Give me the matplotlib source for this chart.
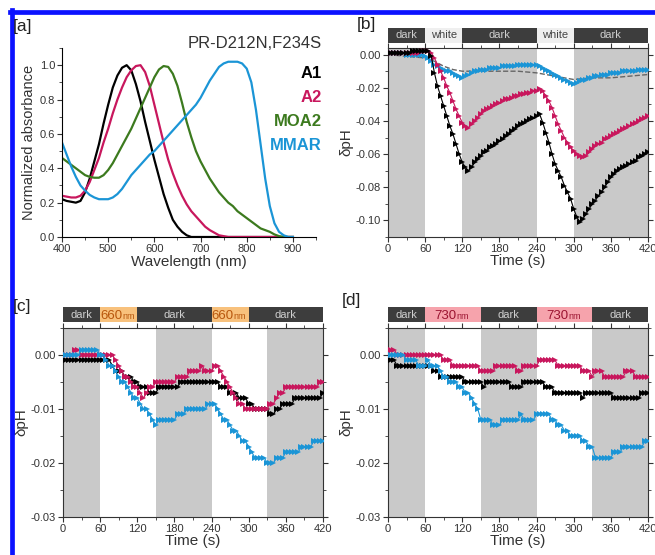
import matplotlib
matplotlib.use("Agg")
import matplotlib.pyplot as plt
from matplotlib.lines import Line2D
from matplotlib.ticker import MultipleLocator

plt.rcParams['font.family'] = ['Liberation Sans', 'DejaVu Sans']

# ---------------- data ----------------
# panel a: normalized absorbance spectra
wavelength = list(range(400, 901, 10))
abs_a1 = [0.22, 0.21, 0.205, 0.20, 0.21, 0.26, 0.34, 0.44, 0.54, 0.66,
          0.77, 0.87, 0.94, 0.985, 1.00, 0.97, 0.89, 0.79, 0.67, 0.56,
          0.45, 0.35, 0.25, 0.17, 0.10, 0.06, 0.03, 0.01, 0.0, 0.0,
          0.0, 0.0, 0.0, 0.0, 0.0, 0.0, 0.0, 0.0, 0.0, 0.0,
          0.0, 0.0, 0.0, 0.0, 0.0, 0.0, 0.0, 0.0, 0.0, 0.0, 0.0]
abs_a2 = [0.24, 0.235, 0.23, 0.23, 0.24, 0.27, 0.32, 0.39, 0.46, 0.55,
          0.63, 0.72, 0.80, 0.87, 0.93, 0.97, 0.995, 1.00, 0.96, 0.88,
          0.77, 0.66, 0.55, 0.45, 0.37, 0.30, 0.24, 0.19, 0.15, 0.12,
          0.09, 0.06, 0.04, 0.025, 0.01, 0.005, 0.0, 0.0, 0.0, 0.0,
          0.0, 0.0, 0.0, 0.0, 0.0, 0.0, 0.0, 0.0, 0.0, 0.0, 0.0]
abs_moa2 = [0.46, 0.44, 0.42, 0.40, 0.38, 0.36, 0.35, 0.345, 0.345, 0.36,
            0.39, 0.43, 0.48, 0.53, 0.58, 0.63, 0.69, 0.75, 0.81, 0.87,
            0.93, 0.975, 0.995, 0.99, 0.95, 0.88, 0.78, 0.67, 0.58, 0.50,
            0.44, 0.39, 0.34, 0.30, 0.26, 0.23, 0.20, 0.18, 0.15, 0.13,
            0.11, 0.09, 0.07, 0.05, 0.04, 0.03, 0.015, 0.005, 0.0, 0.0, 0.0]
abs_mmar = [0.55, 0.48, 0.41, 0.35, 0.30, 0.27, 0.245, 0.23, 0.22, 0.22,
            0.22, 0.23, 0.25, 0.28, 0.32, 0.36, 0.39, 0.42, 0.45, 0.48,
            0.50, 0.53, 0.56, 0.59, 0.62, 0.65, 0.68, 0.71, 0.74, 0.77,
            0.81, 0.86, 0.91, 0.95, 0.99, 1.01, 1.02, 1.02, 1.02, 1.01,
            0.98, 0.90, 0.74, 0.54, 0.34, 0.18, 0.08, 0.03, 0.01, 0.0, 0.0]

# panels b-d: time (s) and delta pH
time_s = list(range(0, 421, 5))

b_a1 = [0.001, 0.001, 0.001, 0.001, 0.001, 0.001, 0.001, 0.001, 0.002, 0.002, 0.002, 0.002,
        0.002, 0.002, -0.001, -0.011, -0.019, -0.025, -0.031, -0.037, -0.043, -0.048, -0.054, -0.060,
        -0.065, -0.068, -0.070, -0.068, -0.065, -0.063, -0.061, -0.059, -0.058, -0.056, -0.055, -0.054,
        -0.052, -0.051, -0.049, -0.048, -0.046, -0.045, -0.043, -0.042, -0.041, -0.040, -0.039, -0.038,
        -0.037, -0.036, -0.041, -0.047, -0.053, -0.060, -0.066, -0.070, -0.074, -0.079, -0.083, -0.087,
        -0.093, -0.098, -0.101, -0.099, -0.096, -0.093, -0.090, -0.088, -0.085, -0.083, -0.080, -0.077,
        -0.074, -0.072, -0.070, -0.069, -0.068, -0.067, -0.066, -0.065, -0.064, -0.062, -0.061, -0.060,
        -0.059]
b_a2 = [0.001, 0.001, 0.001, 0.001, 0.001, 0.001, 0.001, 0.001, 0.001, 0.001, 0.001, 0.002,
        0.002, 0.002, 0.001, -0.002, -0.006, -0.010, -0.014, -0.019, -0.023, -0.028, -0.033, -0.037,
        -0.041, -0.043, -0.044, -0.042, -0.040, -0.038, -0.036, -0.034, -0.033, -0.032, -0.031, -0.030,
        -0.029, -0.028, -0.027, -0.027, -0.026, -0.025, -0.025, -0.024, -0.024, -0.023, -0.023, -0.022,
        -0.022, -0.021, -0.022, -0.025, -0.028, -0.032, -0.037, -0.042, -0.046, -0.050, -0.053, -0.056,
        -0.058, -0.060, -0.061, -0.062, -0.061, -0.059, -0.057, -0.055, -0.054, -0.053, -0.051, -0.050,
        -0.049, -0.048, -0.047, -0.046, -0.045, -0.044, -0.043, -0.042, -0.041, -0.040, -0.039, -0.038,
        -0.037]
b_mmar = [0.001, 0.001, 0.001, 0.001, 0.001, 0.001, 0.000, 0.000, 0.000, 0.000, 0.000, 0.000,
          -0.001, -0.002, -0.004, -0.006, -0.007, -0.008, -0.009, -0.010, -0.010, -0.011, -0.012, -0.013,
          -0.014, -0.013, -0.012, -0.011, -0.010, -0.010, -0.009, -0.009, -0.009, -0.008, -0.008, -0.008,
          -0.008, -0.007, -0.007, -0.007, -0.007, -0.007, -0.006, -0.006, -0.006, -0.006, -0.006, -0.006,
          -0.006, -0.007, -0.008, -0.009, -0.010, -0.011, -0.012, -0.013, -0.014, -0.015, -0.016, -0.017,
          -0.018, -0.017, -0.016, -0.015, -0.015, -0.014, -0.014, -0.013, -0.013, -0.012, -0.012, -0.012,
          -0.011, -0.011, -0.011, -0.011, -0.010, -0.010, -0.010, -0.010, -0.010, -0.009, -0.009, -0.009,
          -0.009]
ctrl_t = [0, 30, 60, 75, 90, 105, 120, 150, 180, 210, 240, 270, 300, 330, 360, 390, 420]
b_ctrl = [0.000, -0.001, -0.002, -0.004, -0.007, -0.009, -0.010, -0.010, -0.010, -0.010,
          -0.011, -0.013, -0.015, -0.014, -0.014, -0.013, -0.012]

c_a1 = [-0.001, -0.001, -0.001, -0.001, -0.001, -0.001, -0.001, -0.001, -0.001, -0.001, -0.001, -0.001,
        -0.001, -0.001, -0.001, -0.001, -0.002, -0.003, -0.003, -0.003, -0.004, -0.004, -0.004, -0.005,
        -0.005, -0.006, -0.006, -0.006, -0.007, -0.007, -0.007, -0.006, -0.006, -0.006, -0.006, -0.006,
        -0.006, -0.006, -0.005, -0.005, -0.005, -0.005, -0.005, -0.005, -0.005, -0.005, -0.005, -0.005,
        -0.005, -0.005, -0.005, -0.006, -0.006, -0.006, -0.007, -0.007, -0.007, -0.008, -0.008, -0.008,
        -0.009, -0.009, -0.010, -0.010, -0.010, -0.010, -0.010, -0.011, -0.011, -0.010, -0.010, -0.009,
        -0.009, -0.009, -0.009, -0.008, -0.008, -0.008, -0.008, -0.008, -0.008, -0.008, -0.008, -0.008,
        -0.007]
c_a2 = [0.000, 0.000, 0.000, 0.000, 0.001, 0.001, 0.000, 0.000, 0.000, 0.000, 0.000, 0.000,
        0.000, 0.000, 0.000, 0.000, 0.000, -0.001, -0.002, -0.003, -0.004, -0.004, -0.005, -0.006,
        -0.006, -0.007, -0.008, -0.007, -0.006, -0.006, -0.005, -0.005, -0.005, -0.005, -0.005, -0.005,
        -0.005, -0.004, -0.004, -0.004, -0.004, -0.003, -0.003, -0.003, -0.003, -0.002, -0.003, -0.003,
        -0.003, -0.002, -0.002, -0.003, -0.004, -0.005, -0.006, -0.007, -0.008, -0.009, -0.009, -0.010,
        -0.010, -0.010, -0.010, -0.010, -0.010, -0.010, -0.010, -0.009, -0.009, -0.008, -0.007, -0.007,
        -0.006, -0.006, -0.006, -0.006, -0.006, -0.006, -0.006, -0.006, -0.006, -0.006, -0.006, -0.005,
        -0.005]
c_mmar = [0.000, 0.000, 0.000, 0.000, 0.000, 0.000, 0.001, 0.001, 0.001, 0.001, 0.001, 0.001,
          0.000, 0.000, -0.001, -0.002, -0.002, -0.003, -0.004, -0.005, -0.005, -0.006, -0.007, -0.008,
          -0.008, -0.009, -0.010, -0.010, -0.011, -0.012, -0.013, -0.012, -0.012, -0.012, -0.012, -0.012,
          -0.012, -0.011, -0.011, -0.011, -0.010, -0.010, -0.010, -0.010, -0.010, -0.010, -0.010, -0.009,
          -0.009, -0.009, -0.010, -0.011, -0.012, -0.012, -0.013, -0.014, -0.014, -0.015, -0.016, -0.016,
          -0.017, -0.018, -0.019, -0.019, -0.019, -0.019, -0.020, -0.020, -0.020, -0.019, -0.019, -0.019,
          -0.018, -0.018, -0.018, -0.018, -0.018, -0.017, -0.017, -0.017, -0.017, -0.016, -0.016, -0.016,
          -0.016]

d_a1 = [-0.001, -0.001, -0.001, -0.002, -0.002, -0.002, -0.002, -0.002, -0.002, -0.002, -0.002, -0.002,
        -0.002, -0.002, -0.002, -0.003, -0.003, -0.004, -0.004, -0.004, -0.004, -0.004, -0.004, -0.004,
        -0.004, -0.005, -0.005, -0.005, -0.005, -0.005, -0.005, -0.006, -0.005, -0.005, -0.005, -0.005,
        -0.005, -0.005, -0.005, -0.005, -0.006, -0.006, -0.006, -0.006, -0.005, -0.005, -0.005, -0.005,
        -0.005, -0.005, -0.005, -0.006, -0.006, -0.006, -0.007, -0.007, -0.007, -0.007, -0.007, -0.007,
        -0.007, -0.007, -0.007, -0.008, -0.007, -0.007, -0.007, -0.007, -0.007, -0.007, -0.007, -0.007,
        -0.007, -0.008, -0.008, -0.008, -0.008, -0.008, -0.008, -0.008, -0.008, -0.008, -0.007, -0.007,
        -0.007]
d_a2 = [0.000, 0.001, 0.001, 0.000, 0.000, 0.000, 0.000, 0.000, 0.000, 0.000, 0.000, 0.000,
        0.000, 0.000, 0.000, 0.000, 0.000, 0.000, -0.001, -0.001, -0.001, -0.002, -0.002, -0.002,
        -0.002, -0.002, -0.002, -0.002, -0.002, -0.002, -0.003, -0.003, -0.003, -0.003, -0.003, -0.002,
        -0.002, -0.002, -0.002, -0.002, -0.002, -0.002, -0.003, -0.003, -0.002, -0.002, -0.002, -0.002,
        -0.002, -0.001, -0.001, -0.001, -0.001, -0.001, -0.001, -0.002, -0.002, -0.002, -0.002, -0.002,
        -0.002, -0.002, -0.002, -0.003, -0.003, -0.003, -0.004, -0.003, -0.003, -0.003, -0.004, -0.004,
        -0.004, -0.004, -0.004, -0.004, -0.004, -0.003, -0.003, -0.003, -0.004, -0.004, -0.004, -0.004,
        -0.004]
d_mmar = [0.000, 0.000, 0.000, 0.000, 0.000, 0.000, -0.001, -0.001, -0.001, -0.001, -0.002, -0.002,
          -0.002, -0.001, -0.002, -0.002, -0.002, -0.003, -0.004, -0.004, -0.005, -0.005, -0.005, -0.006,
          -0.006, -0.007, -0.007, -0.008, -0.009, -0.010, -0.012, -0.012, -0.012, -0.012, -0.013, -0.013,
          -0.013, -0.012, -0.012, -0.012, -0.012, -0.012, -0.012, -0.011, -0.012, -0.012, -0.012, -0.012,
          -0.011, -0.011, -0.011, -0.011, -0.011, -0.012, -0.012, -0.013, -0.013, -0.014, -0.014, -0.015,
          -0.015, -0.015, -0.015, -0.016, -0.016, -0.017, -0.017, -0.019, -0.019, -0.019, -0.019, -0.019,
          -0.019, -0.018, -0.018, -0.018, -0.017, -0.017, -0.017, -0.017, -0.017, -0.017, -0.017, -0.016,
          -0.016]

# illumination periods (start, end, label) and grey shaded dark periods
b_bar = [(0, 60, 'dark'), (60, 120, 'white'), (120, 240, 'dark'), (240, 300, 'white'), (300, 420, 'dark')]
c_bar = [(0, 60, 'dark'), (60, 120, '660'), (120, 240, 'dark'), (240, 300, '660'), (300, 420, 'dark')]
d_bar = [(0, 60, 'dark'), (60, 150, '730'), (150, 240, 'dark'), (240, 330, '730'), (330, 420, 'dark')]
b_shade = [(0, 60), (120, 240), (300, 420)]
cd_shade = [(0, 60), (150, 240), (330, 420)]

# colours
C_A1 = '#000000'
C_A2 = '#c8175d'
C_MOA2 = '#3c7a1e'
C_MMAR = '#1b95d6'

W, H = 655, 555


def rect(l, t, r, b):
    return [l / W, 1 - b / H, (r - l) / W, (b - t) / H]


fig = plt.figure(figsize=(W / 100, H / 100), dpi=100)

# blue frame (top and left edges)
fig.add_artist(Line2D([10 / W, 1], [1 - 12 / H, 1 - 12 / H], color='#0b12ff', lw=3.4))
fig.add_artist(Line2D([12 / W, 12 / W], [0, 1 - 10 / H], color='#0b12ff', lw=3.4))

# ---------------- panel a ----------------
ax = fig.add_axes(rect(62, 48, 316, 237))
ax.plot(wavelength, abs_a1, color=C_A1, lw=1.6)
ax.plot(wavelength, abs_a2, color=C_A2, lw=1.6)
ax.plot(wavelength, abs_moa2, color=C_MOA2, lw=1.6)
ax.plot(wavelength, abs_mmar, color=C_MMAR, lw=1.6)
ax.set_xlim(400, 950)
ax.set_ylim(0, 1.1)
ax.set_xticks(range(400, 901, 100))
ax.set_yticks([0.0, 0.2, 0.4, 0.6, 0.8, 1.0])
ax.xaxis.set_minor_locator(MultipleLocator(50))
ax.yaxis.set_minor_locator(MultipleLocator(0.1))
ax.spines['top'].set_visible(False)
ax.spines['right'].set_visible(False)
ax.tick_params(which='both', direction='out', labelsize=8, colors='#333333', pad=1.5)
ax.tick_params(which='major', length=3.5)
ax.tick_params(which='minor', length=2)
ax.set_xlabel('Wavelength (nm)', fontsize=11, labelpad=1, color='#333333')
ax.set_ylabel('Normalized absorbance', fontsize=10.5, labelpad=3, color='#333333')
fig.text(322 / W, 1 - 44 / H, 'PR-D212N,F234S', ha='right', va='center', fontsize=12, color='#333333')
for lab, col, yy in [('A1', C_A1, 73), ('A2', C_A2, 97), ('MOA2', C_MOA2, 121), ('MMAR', C_MMAR, 145)]:
    fig.text(322 / W, 1 - yy / H, lab, ha='right', va='center', fontsize=12, fontweight='bold', color=col)


# ---------------- panels b-d ----------------
bar_style = {
    'dark': ('#3d3d3d', '#cfcfcf'),
    'white': ('#efefef', '#444444'),
    '660': ('#f8c17c', '#b8560c'),
    '730': ('#f6a3ac', '#9b1431'),
}


def time_panel(box, bar_box, curves, shade, bar, ylim, major, minor, ticks):
    ax = fig.add_axes(rect(*box))
    for s0, s1 in shade:
        ax.axvspan(s0, s1, color='#c9c9c9', lw=0, zorder=0)
    for x, y, col in curves:
        ax.plot(x, y, color=col, lw=0.8, marker='>', ms=3.8, mew=0, zorder=3)
    ax.set_xlim(0, 420)
    ax.set_ylim(*ylim)
    ax.set_xticks(range(0, 421, 60))
    ax.set_yticks(ticks)
    ax.yaxis.set_major_formatter(plt.FormatStrFormatter('%.2f'))
    ax.xaxis.set_minor_locator(MultipleLocator(30))
    ax.yaxis.set_minor_locator(MultipleLocator(minor))
    ax.tick_params(which='both', top=True, right=True, direction='out', labelsize=8,
                   colors='#333333', pad=1.5)
    ax.tick_params(which='major', length=3.5)
    ax.tick_params(which='minor', length=2)
    for sp in ax.spines.values():
        sp.set_color('#333333')
    ax.set_xlabel('Time (s)', fontsize=11, labelpad=0, color='#333333')
    ax.set_ylabel('δpH', fontsize=11, labelpad=2, color='#333333')

    bx = fig.add_axes(rect(*bar_box))
    bx.set_xlim(0, 420)
    bx.set_ylim(0, 1)
    bx.axis('off')
    for s0, s1, lab in bar:
        face, tcol = bar_style[lab]
        bx.broken_barh([(s0, s1 - s0)], (0, 1), facecolors=face)
        mid = (s0 + s1) / 2
        if lab in ('660', '730'):
            bx.text(mid + 6, 0.18, lab, ha='right', va='baseline', fontsize=9.5, color=tcol)
            bx.text(mid + 6, 0.18, 'nm', ha='left', va='baseline', fontsize=6.5, color=tcol)
        else:
            bx.text(mid, 0.5, lab, ha='center', va='center', fontsize=8, color=tcol)
    return ax


ax_b = time_panel((388, 48, 648, 237), (388, 28, 648, 43),
                  [(time_s, b_mmar, C_MMAR), (time_s, b_a2, C_A2), (time_s, b_a1, C_A1)],
                  b_shade, b_bar, (-0.11, 0.004), 0.02, 0.01,
                  [0.0, -0.02, -0.04, -0.06, -0.08, -0.10])
ax_b.plot(ctrl_t, b_ctrl, color='#666666', lw=1.0, ls='--', zorder=2)

time_panel((63, 328, 323, 517), (63, 307, 323, 322),
           [(time_s, c_a1, C_A1), (time_s, c_a2, C_A2), (time_s, c_mmar, C_MMAR)],
           cd_shade, c_bar, (-0.03, 0.005), 0.01, 0.005,
           [0.0, -0.01, -0.02, -0.03])

time_panel((388, 328, 648, 517), (388, 307, 648, 322),
           [(time_s, d_a1, C_A1), (time_s, d_a2, C_A2), (time_s, d_mmar, C_MMAR)],
           cd_shade, d_bar, (-0.03, 0.005), 0.01, 0.005,
           [0.0, -0.01, -0.02, -0.03])

# panel letters
for lab, x, y in [('[a]', 13, 27), ('[b]', 357, 25), ('[c]', 13, 306), ('[d]', 342, 300)]:
    fig.text(x / W, 1 - y / H, lab, ha='left', va='center', fontsize=12.5, color='#222222')

fig.savefig('out.png', dpi=100)
